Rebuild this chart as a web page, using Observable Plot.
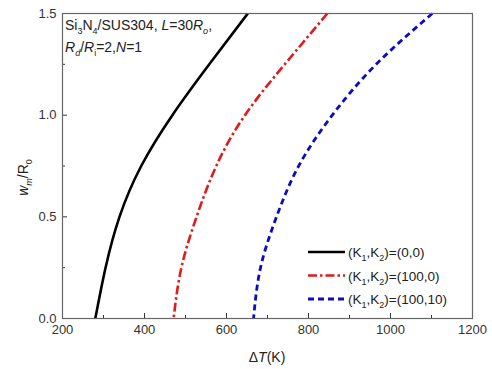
<!DOCTYPE html>
<html><head><meta charset="utf-8">
<script src="https://cdn.jsdelivr.net/npm/d3@7"></script>
<script src="https://cdn.jsdelivr.net/npm/@observablehq/plot@0.6"></script>
<style>
html,body{margin:0;padding:0;background:#fff;}
svg{font-family:"Liberation Sans",Arial,sans-serif;}
</style></head>
<body><div id="chart"></div>
<script>
const wValues = [0, 0.25, 0.5, 0.75, 1.0, 1.25, 1.5];
const dT_00 = [280, 305, 339, 392, 468, 558, 652];
const dT_100_0 = [471, 490, 527, 575, 645, 742, 846];
const dT_100_10 = [666, 683, 722, 776, 858, 965, 1102];
const seriesNames = ["(0,0)", "(100,0)", "(100,10)"];
const xMajor = [200, 400, 600, 800, 1000, 1200];
const xMinor = [300, 500, 700, 900, 1100];
const yMajor = [0, 0.5, 1.0, 1.5];
const yMinor = [0.25, 0.75, 1.25];

const styles = [
  {stroke: "#000000", dash: null, width: 2.6},
  {stroke: "#e01b1b", dash: "9,3,2.5,3", width: 2.6},
  {stroke: "#0b0bc4", dash: "6,4", width: 2.8}
];
const allSeries = [dT_00, dT_100_0, dT_100_10];
const data = allSeries.flatMap((arr, i) => arr.map((T, j) => ({T, w: wValues[j], s: i})).reverse());

const fontFam = '"Liberation Sans",Arial,sans-serif';

const chart = Plot.plot({
  width: 492, height: 369,
  marginLeft: 62, marginRight: 20, marginTop: 13, marginBottom: 51,
  style: {fontFamily: fontFam, fontSize: "13px", color: "#222", background: "#fff"},
  x: {domain: [200, 1200]},
  y: {domain: [0, 1.5]},
  marks: [
    Plot.axisX({ticks: xMajor, tickSize: 0, tickPadding: 6, tickFormat: d => String(d), label: null, fill: "#333"}),
    Plot.axisX({ticks: xMajor, tickSize: 5, dy: -5, tickFormat: () => "", label: null, stroke: "#333"}),
    Plot.axisX({ticks: xMinor, tickSize: 3, dy: -3, tickFormat: () => "", label: null, stroke: "#333"}),
    Plot.axisY({ticks: yMajor, tickSize: 0, tickPadding: 6, tickFormat: d => d.toFixed(1), label: null, fill: "#333"}),
    Plot.axisY({ticks: yMajor, tickSize: 5, dx: 5, tickFormat: () => "", label: null, stroke: "#333"}),
    Plot.axisY({ticks: yMinor, tickSize: 3, dx: 3, tickFormat: () => "", label: null, stroke: "#333"}),
    ...styles.map((st, i) => Plot.line(data.filter(d => d.s === i), {
      x: "T", y: "w", curve: "natural",
      stroke: st.stroke, strokeWidth: st.width, strokeDasharray: st.dash, strokeLinecap: "butt"
    })),
    Plot.frame({stroke: "#666", strokeWidth: 1.2})
  ]
});
document.getElementById("chart").appendChild(chart);

const xs = chart.scale("x"), ys = chart.scale("y");
const svg = d3.select(chart);
const pLeft = xs.apply(200), pRight = xs.apply(1200), pTop = ys.apply(1.5), pBottom = ys.apply(0);

const sub = (el, t, italic) => el.append("tspan").attr("font-size", 9).attr("dy", 4).attr("font-style", italic ? "italic" : null).text(t);
const up = (el, t, italic) => el.append("tspan").attr("dy", -4).attr("font-style", italic ? "italic" : null).text(t);
const mkText = (x, y, size, anchor) => svg.append("text").attr("x", x).attr("y", y)
  .attr("font-size", size).attr("fill", "#222").attr("font-family", fontFam).attr("text-anchor", anchor || "start");

// annotation
const ann = mkText(pLeft + 3, pTop + 17, 14);
ann.append("tspan").text("Si");
sub(ann, "3"); up(ann, "N"); sub(ann, "4"); up(ann, "/SUS304, ");
ann.append("tspan").attr("font-style", "italic").text("L");
ann.append("tspan").text("=30");
ann.append("tspan").attr("font-style", "italic").text("R");
sub(ann, "o", true); up(ann, ",");
const ann2 = mkText(pLeft + 3, pTop + 39, 14);
ann2.append("tspan").attr("font-style", "italic").text("R");
sub(ann2, "d", true); up(ann2, "/");
ann2.append("tspan").attr("font-style", "italic").text("R");
sub(ann2, "i"); up(ann2, "=2,");
ann2.append("tspan").attr("font-style", "italic").text("N");
ann2.append("tspan").text("=1");

// x label
const xl = mkText((pLeft + pRight) / 2, pBottom + 44, 14, "middle");
xl.append("tspan").text("\u0394");
xl.append("tspan").attr("font-style", "italic").text("T");
xl.append("tspan").text("(K)");

// y label
const yl = svg.append("text").attr("transform", `translate(${pLeft - 34},${(pTop + pBottom) / 2 + 12}) rotate(-90)`)
  .attr("text-anchor", "middle").attr("font-size", 14).attr("fill", "#222").attr("font-family", fontFam);
yl.append("tspan").attr("font-style", "italic").text("w");
sub(yl, "m", true); up(yl, "/R");
sub(yl, "0");

// legend
const lx0 = pRight - 164, lx1 = pRight - 127, ly0 = pBottom - 66, lgap = 23.5;
styles.forEach((st, i) => {
  const y = ly0 + i * lgap;
  svg.append("line").attr("x1", lx0).attr("x2", lx1).attr("y1", y).attr("y2", y)
    .attr("stroke", st.stroke).attr("stroke-width", st.width).attr("stroke-dasharray", st.dash);
  const t = mkText(lx1 + 3, y + 5, 13.5);
  t.append("tspan").text("(K");
  sub(t, "1"); up(t, ",K");
  sub(t, "2"); up(t, ")=" + seriesNames[i]);
});
</script>
</body></html>
